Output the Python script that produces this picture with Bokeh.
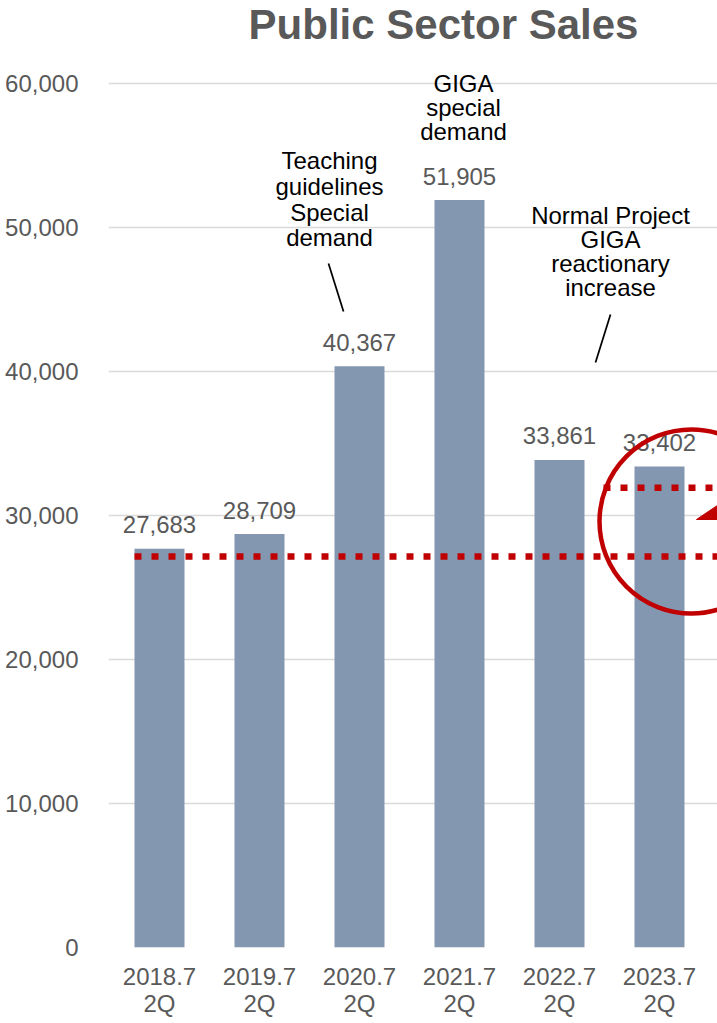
from bokeh.plotting import figure
from bokeh.models import ColumnDataSource, FixedTicker, Label, Range1d
from bokeh.core.properties import value
from bokeh.embed import file_html
from bokeh.resources import INLINE

# Public sector sales by fiscal period (2Q cumulative)
periods = ["2018.7\n2Q", "2019.7\n2Q", "2020.7\n2Q", "2021.7\n2Q", "2022.7\n2Q", "2023.7\n2Q"]
sales = [27683, 28709, 40367, 51905, 33861, 33402]
y_ticks = [0, 10000, 20000, 30000, 40000, 50000, 60000]

# Reference levels drawn as dotted red lines
base_level = 27150
recent_level = 31924

FONT = "Liberation Sans"
GREY = "#595959"
RED = "#C00000"
BAR = "#8497B0"

idx = list(range(len(periods)))
src = ColumnDataSource(dict(
    x=idx,
    top=sales,
    label=[f"{v:,}" for v in sales],
))

p = figure(
    width=717, height=1023,
    x_range=Range1d(-0.51, 5.58), y_range=Range1d(0, 65764),
    output_backend="svg", toolbar_location=None,
    min_border_left=108, min_border_right=0,
    min_border_top=0, min_border_bottom=76,
)
p.outline_line_color = None
p.background_fill_color = "white"
p.border_fill_color = "white"

# Axes
p.xgrid.grid_line_color = None
p.ygrid.grid_line_color = "#D9D9D9"
p.ygrid.grid_line_width = 1.6
p.yaxis.ticker = FixedTicker(ticks=y_ticks)
p.yaxis.formatter.use_scientific = False
p.yaxis.major_label_overrides = {t: f"{t:,}" for t in y_ticks}
p.xaxis.ticker = FixedTicker(ticks=idx)
p.xaxis.major_label_overrides = {i: s for i, s in zip(idx, periods)}
for ax in (p.xaxis[0], p.yaxis[0]):
    ax.axis_line_color = None
    ax.major_tick_line_color = None
    ax.minor_tick_line_color = None
    ax.major_label_text_font = FONT
    ax.major_label_text_font_size = "24px"
    ax.major_label_text_color = GREY
p.yaxis.major_label_standoff = 24
p.xaxis.major_label_standoff = 9
p.xaxis.major_label_text_line_height = 1.03

# Bars
p.vbar(x="x", top="top", width=0.5, source=src, fill_color=BAR, line_color=None)

# Dotted reference lines
p.segment(x0=[-0.25], y0=[base_level], x1=[5.6], y1=[base_level],
          line_color=RED, line_width=6.5, line_dash="7 10", line_cap="butt")
p.segment(x0=[4.44], y0=[recent_level], x1=[5.6], y1=[recent_level],
          line_color=RED, line_width=6.5, line_dash="7 10", line_cap="butt")

# Value labels above bars
p.text(x="x", y="top", text="label", source=src, y_offset=-24,
       text_align="center", text_baseline="alphabetic",
       text_font=value(FONT), text_font_size="24px", text_color=GREY)

# Callout notes
def note(lines, x, y_first, step):
    ys = [y_first - k * step for k in range(len(lines))]
    p.text(x=[x] * len(lines), y=ys, text=lines,
           text_align="center", text_baseline="alphabetic",
           text_font=value(FONT), text_font_size="24px", text_color="black")

note(["Teaching", "guidelines", "Special", "demand"], 1.70, 54660, 1792)
note(["GIGA", "special", "demand"], 3.04, 59980, 1653)
note(["Normal Project", "GIGA", "reactionary", "increase"], 4.51, 50860, 1667)

# Leader lines
p.segment(x0=[1.69, 4.51], y0=[47500, 43958], x1=[1.84, 4.36], y1=[44167, 40625],
          line_color="black", line_width=1.8)

# Highlight ring and arrow head
p.scatter(x=[5.32], y=[29583], size=184, marker="circle",
          fill_color=None, line_color=RED, line_width=4.5)
p.patch(x=[5.37, 5.75, 5.75], y=[29722, 31500, 29722],
        fill_color=RED, line_color=RED)

# Title
p.add_layout(Label(x=2.84, y=64110, text="Public Sector Sales",
                   text_align="center", text_baseline="alphabetic",
                   text_font=FONT, text_font_size="42px",
                   text_font_style="bold", text_color=GREY))

open("out.html", "w").write(file_html(p, INLINE))
